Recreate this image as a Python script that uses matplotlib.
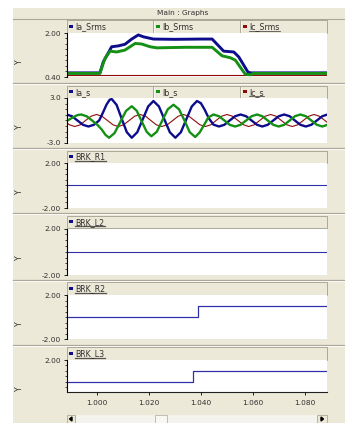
import numpy as np
import matplotlib
matplotlib.use('Agg')
import matplotlib.pyplot as plt
from matplotlib.patches import Rectangle, Polygon
from matplotlib.ticker import MultipleLocator

x_ticks = [1.000, 1.020, 1.040, 1.060, 1.080]
x_labels = ['1.000', '1.020', '1.040', '1.060', '1.080']

# panel 1 : rms currents
ia_rms_t = [0.9885, 1.0013, 1.0026, 1.0058, 1.0083, 1.0109, 1.0135, 1.0160, 1.0180, 1.0218,
            1.0300, 1.0400, 1.0443, 1.0487, 1.0526, 1.0545, 1.0580, 1.0590, 1.0885]
ia_rms = [0.55, 0.55, 0.95, 1.50, 1.53, 1.59, 1.78, 1.93, 1.86, 1.78,
          1.77, 1.78, 1.78, 1.34, 1.31, 1.13, 0.58, 0.55, 0.55]
ib_rms_t = [0.9885, 1.0013, 1.0032, 1.0052, 1.0077, 1.0109, 1.0148, 1.0173, 1.0205, 1.0231,
            1.0340, 1.0443, 1.0481, 1.0513, 1.0532, 1.0570, 1.0590, 1.0600, 1.0885]
ib_rms = [0.53, 0.53, 1.07, 1.34, 1.31, 1.38, 1.62, 1.60, 1.50, 1.46,
          1.48, 1.48, 1.17, 1.10, 1.01, 0.50, 0.48, 0.53, 0.53]
ic_rms_t = [0.9885, 1.0885]
ic_rms = [0.49, 0.49]

# panel 2 : instantaneous currents
ia_t = [0.9885, 0.9906, 0.9927, 0.9948, 0.9969, 0.9990, 1.0010, 1.0024, 1.0038, 1.0050,
        1.0058, 1.0077, 1.0096, 1.0116, 1.0135, 1.0156, 1.0177, 1.0198, 1.0218, 1.0239,
        1.0260, 1.0281, 1.0302, 1.0323, 1.0344, 1.0365, 1.0385, 1.0400, 1.0415, 1.0430,
        1.0448, 1.0469, 1.0490, 1.0510, 1.0531, 1.0552, 1.0573, 1.0594, 1.0615, 1.0635,
        1.0656, 1.0677, 1.0698, 1.0719, 1.0740, 1.0760, 1.0781, 1.0802, 1.0823, 1.0844,
        1.0865, 1.0885]
ia = [0.80, 0.57, 0.0, -0.57, -0.80, -0.57, 0.0, 1.0, 2.1, 2.75,
      2.87, 2.08, 0.28, -1.55, -2.3, -1.57, 0.15, 1.88, 2.6, 1.88,
      0.15, -1.57, -2.3, -1.57, 0.15, 1.88, 2.6, 2.3, 1.4, 0.3,
      -0.55, -0.8, -0.57, 0.0, 0.57, 0.8, 0.57, 0.0, -0.57, -0.8,
      -0.57, 0.0, 0.57, 0.8, 0.57, 0.0, -0.57, -0.8, -0.57, 0.0,
      0.57, 0.8]
ib_t = [0.9885, 0.9906, 0.9927, 0.9941, 0.9962, 0.9983, 1.0003, 1.0020, 1.0034, 1.0048,
        1.0069, 1.0091, 1.0113, 1.0135, 1.0154, 1.0173, 1.0192, 1.0210, 1.0231, 1.0252,
        1.0273, 1.0295, 1.0316, 1.0337, 1.0357, 1.0378, 1.0395, 1.0412, 1.0428, 1.0448,
        1.0469, 1.0490, 1.0510, 1.0531, 1.0552, 1.0573, 1.0594, 1.0615, 1.0635, 1.0656,
        1.0677, 1.0698, 1.0719, 1.0740, 1.0760, 1.0781, 1.0802, 1.0823, 1.0844, 1.0865,
        1.0885]
ib = [-0.1, 0.35, 0.72, 0.8, 0.57, 0.0, -0.57, -1.2, -1.9, -2.3,
      -1.68, -0.2, 1.28, 1.9, 1.3, -0.1, -1.5, -2.1, -1.5, 0.0,
      1.5, 2.1, 1.5, 0.0, -1.55, -2.2, -1.6, -0.6, 0.4, 0.8,
      0.57, 0.0, -0.57, -0.8, -0.57, 0.0, 0.57, 0.8, 0.57, 0.0,
      -0.57, -0.8, -0.57, 0.0, 0.57, 0.8, 0.57, 0.0, -0.57, -0.8,
      -0.57]
ic_t = [0.9875, 0.9896, 0.9917, 0.9938, 0.9958, 0.9979, 1.0000, 1.0021, 1.0042, 1.0063,
        1.0083, 1.0104, 1.0125, 1.0146, 1.0167, 1.0188, 1.0208, 1.0229, 1.0250, 1.0271,
        1.0292, 1.0313, 1.0333, 1.0354, 1.0375, 1.0396, 1.0417, 1.0438, 1.0458, 1.0479,
        1.0500, 1.0521, 1.0542, 1.0563, 1.0583, 1.0604, 1.0625, 1.0646, 1.0667, 1.0688,
        1.0708, 1.0729, 1.0750, 1.0771, 1.0792, 1.0813, 1.0833, 1.0854, 1.0875, 1.0896]
ic = [0.0, -0.57, -0.8, -0.57, 0.0, 0.57, 0.8, 0.57,
      0.0, -0.57, -0.8, -0.57, 0.0, 0.57, 0.8, 0.57,
      0.0, -0.57, -0.8, -0.57, 0.0, 0.57, 0.8, 0.57,
      0.0, -0.57, -0.8, -0.57, 0.0, 0.57, 0.8, 0.57,
      0.0, -0.57, -0.8, -0.57, 0.0, 0.57, 0.8, 0.57,
      0.0, -0.57, -0.8, -0.57, 0.0, 0.57, 0.8, 0.57,
      0.0, -0.57]

# panels 3-6 : breaker signals
brk_r1_t = [0.9885, 1.0885]
brk_r1 = [0, 0]
brk_l2_t = [0.9885, 1.0885]
brk_l2 = [0, 0]
brk_r2_t = [0.9885, 1.0389, 1.0885]
brk_r2 = [0, 1, 1]
brk_l3_t = [0.9885, 1.0368, 1.0885]
brk_l3 = [0, 1, 1]

# --- figure --- #

W, H = 345, 423
BEIGE = '#ECE9D8'
EDGE = '#ACA899'
BLUE = '#0c0c8c'
GREEN = '#149014'
RED = '#900c0c'
BRK = '#3030a8'
TXT = '#303030'
FS = 5.3
LFS = 5.7

fig = plt.figure(figsize=(W / 100, H / 100), dpi=100)
fig.patch.set_facecolor('white')

bg = fig.add_axes([0, 0, 1, 1])
bg.set_xlim(0, W)
bg.set_ylim(H, 0)
bg.axis('off')


def box(x0, y0, x1, y1, **kw):
    bg.add_patch(Rectangle((x0, y0), x1 - x0, y1 - y0, **kw))


def px_axes(x0, y0, x1, y1):
    return fig.add_axes([x0 / W, 1 - y1 / H, (x1 - x0) / W, (y1 - y0) / H])


box(13, 8, W, H, facecolor=BEIGE, edgecolor='none')
bg.plot([13, W], [19, 19], color=EDGE, lw=0.8)
bg.text(183, 13.5, 'Main : Graphs', ha='center', va='center', fontsize=FS, color=TXT)

for y in [83.5, 148.5, 213.5, 280, 345.5]:
    bg.plot([13, W], [y, y], color=EDGE, lw=0.9)
    bg.plot([13, W], [y + 1, y + 1], color='white', lw=0.6)

XL, XR = 66.5, 327
XMIN, XMAX = 0.9885, 1.0883

panels = [
    dict(hy=(20.5, 33, 77), ylim=(0.40, 2.00), lab=('0.40', '2.00'), minor=0.2,
         cells=[('Ia_Srms', BLUE, False), ('Ib_Srms', GREEN, False), ('Ic_Srms', RED, True)],
         lines=[(ic_rms_t, ic_rms, RED, 0.8), (ia_rms_t, ia_rms, BLUE, 2.1), (ib_rms_t, ib_rms, GREEN, 2.1)]),
    dict(hy=(86.5, 98, 143), ylim=(-3.0, 3.0), lab=('-3.0', '3.0'), minor=0.75,
         cells=[('Ia_s', BLUE, False), ('Ib_s', GREEN, False), ('Ic_s', RED, True)],
         lines=[(ic_t, ic, RED, 0.8), (ia_t, ia, BLUE, 1.7), (ib_t, ib, GREEN, 1.7)]),
    dict(hy=(151, 163, 208), ylim=(-2.0, 2.0), lab=('-2.00', '2.00'), minor=0.5,
         cells=[('BRK_R1', BLUE, True)], lines=[(brk_r1_t, brk_r1, BRK, 0.8)]),
    dict(hy=(216, 228.5, 275), ylim=(-2.0, 2.0), lab=('-2.00', '2.00'), minor=0.5,
         cells=[('BRK_L2', BLUE, True)], lines=[(brk_l2_t, brk_l2, BRK, 0.8)]),
    dict(hy=(282.5, 295, 339), ylim=(-2.0, 2.0), lab=('-2.00', '2.00'), minor=0.5,
         cells=[('BRK_R2', BLUE, True)], lines=[(brk_r2_t, brk_r2, BRK, 0.9)]),
    dict(hy=(347.5, 360, 392), ylim=(-0.94, 2.0), lab=(None, '2.00'), minor=0.5,
         cells=[('BRK_L3', BLUE, True)], lines=[(brk_l3_t, brk_l3, BRK, 0.9)]),
]

fig.canvas.draw()
renderer = fig.canvas.get_renderer()

for i, p in enumerate(panels):
    htop, ptop, pbot = p['hy']

    # legend header
    box(XL, htop, XR, ptop, facecolor=BEIGE, edgecolor=EDGE, lw=0.7)
    n = len(p['cells'])
    cw = (XR - XL) / n
    hmid = (htop + ptop) / 2
    for k, (name, col, ul) in enumerate(p['cells']):
        cx = XL + k * cw
        if k > 0:
            bg.plot([cx, cx], [htop, ptop], color=EDGE, lw=0.7)
            bg.plot([cx + 1, cx + 1], [htop + 0.5, ptop - 0.5], color='white', lw=0.5)
        box(cx + 2.5, hmid - 2, cx + 6.5, hmid + 1.2, facecolor=col, edgecolor='none')
        t = bg.text(cx + 9, hmid, name, ha='left', va='center', fontsize=LFS, color=TXT)
        if ul:
            wpx = t.get_window_extent(renderer).width
            bg.plot([cx + 8.5, cx + 9 + wpx], [ptop - 2, ptop - 2],
                    color='#555555' if n == 1 else TXT, lw=0.9 if n == 1 else 0.5)

    # Y axis title
    bg.text(20, ptop + 29, 'Y', rotation=90, ha='center', va='center', fontsize=5.6, color=TXT)

    ax = px_axes(XL, ptop, XR, pbot)
    ax.set_facecolor('white')
    for (tt, vv, col, lw) in p['lines']:
        if col == BRK and len(tt) == 3:
            ax.plot(tt, vv, color=col, lw=lw, drawstyle='steps-post')
        else:
            ax.plot(tt, vv, color=col, lw=lw, solid_joinstyle='round')
    ax.set_xlim(XMIN, XMAX)
    lo, hi = p['ylim']
    ax.set_ylim(lo, hi)
    for s in ['top', 'right']:
        ax.spines[s].set_visible(False)
    ax.spines['left'].set_color('black')
    ax.spines['left'].set_linewidth(0.8)
    last = i == len(panels) - 1
    ax.spines['bottom'].set_visible(last)
    if last:
        ax.spines['bottom'].set_color('#202020')
        ax.spines['bottom'].set_linewidth(0.8)
        ax.set_yticks([hi])
        ax.set_yticklabels([p['lab'][1]])
        ax.set_xticks(x_ticks)
        ax.set_xticklabels(x_labels)
    else:
        ax.set_yticks([lo, hi])
        ax.set_yticklabels(list(p['lab']))
        ax.set_xticks([])
    ax.yaxis.set_minor_locator(MultipleLocator(p['minor']))
    ax.tick_params(axis='y', which='major', length=2.5, width=0.6, pad=1.2,
                   labelsize=FS, labelcolor=TXT)
    ax.tick_params(axis='y', which='minor', length=1.6, width=0.5)
    ax.tick_params(axis='x', which='major', length=2, width=0.6, pad=4,
                   labelsize=FS, labelcolor=TXT)

# scroll bar
box(XL, 415, XR, H, facecolor='#F4F3EE', edgecolor='none')
box(155, 415, 167, H, facecolor='#F8F7F2', edgecolor=EDGE, lw=0.5)
box(XL, 415, 75, H, facecolor=BEIGE, edgecolor=EDGE, lw=0.6)
box(317, 415, XR, H, facecolor=BEIGE, edgecolor=EDGE, lw=0.6)
bg.add_patch(Polygon([[69.5, 419], [72, 417], [72, 421]], closed=True, color='black'))
bg.add_patch(Polygon([[323.5, 419], [321, 417], [321, 421]], closed=True, color='black'))

plt.savefig('out.png', dpi=100)
